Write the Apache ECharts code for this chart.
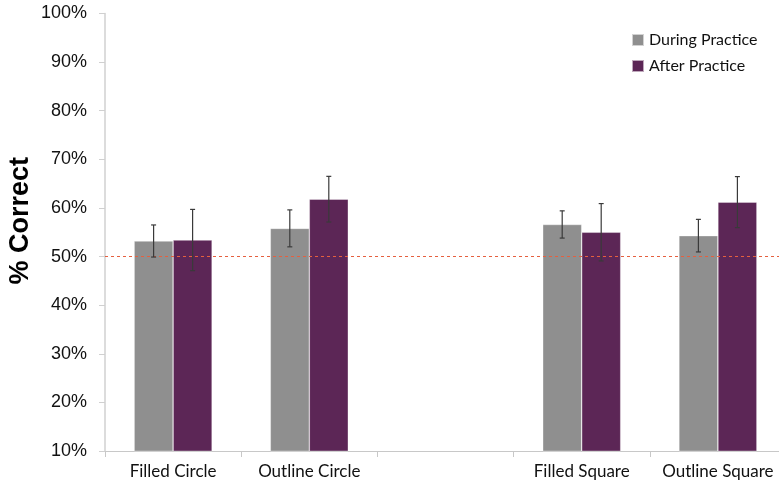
<!DOCTYPE html>
<html>
<head>
<meta charset="utf-8">
<script src="https://cdn.jsdelivr.net/npm/echarts@6/dist/echarts.min.js"></script>
<style>
  html, body { margin: 0; padding: 0; background: #fff; }
  #chart { width: 779px; height: 486px; }
</style>
</head>
<body>
<div id="chart"></div>
<script>
// Stimulus conditions (the empty slot separates circles from squares)
const categories = ['Filled Circle', 'Outline Circle', '', 'Filled Square', 'Outline Square'];
// Mean percent correct
const duringPractice = [53.2, 55.8, null, 56.6, 54.3];
const afterPractice = [53.4, 61.8, null, 55.0, 61.2];
// Standard error (percentage points)
const duringErr = [3.3, 3.8, null, 2.8, 3.35];
const afterErr = [6.3, 4.7, null, 5.9, 5.25];
// Chance level
const chanceLevel = 50;
const yTicks = { min: 10, max: 100, step: 10 };

const chart = echarts.init(document.getElementById('chart'));
const BAR_W = 39;

function errorSeries(name, means, errs, side) {
  return {
    type: 'custom',
    name: name + ' error',
    z: 5,
    silent: true,
    renderItem: function (params, api) {
      const i = api.value(0);
      const lo = api.value(1);
      const hi = api.value(2);
      const cx = api.coord([i, 0])[0] + side * BAR_W / 2;
      const yLo = api.coord([i, lo])[1];
      const yHi = api.coord([i, hi])[1];
      const cap = 2.5;
      const st = { stroke: '#3a3a3a', lineWidth: 1.2 };
      return {
        type: 'group',
        children: [
          { type: 'line', shape: { x1: cx, y1: yLo, x2: cx, y2: yHi }, style: st },
          { type: 'line', shape: { x1: cx - cap, y1: yHi, x2: cx + cap, y2: yHi }, style: st },
          { type: 'line', shape: { x1: cx - cap, y1: yLo, x2: cx + cap, y2: yLo }, style: st }
        ]
      };
    },
    data: means.map((m, i) => m == null ? null : [i, m - errs[i], m + errs[i]]).filter(d => d)
  };
}

chart.setOption({
  animation: false,
  grid: { left: 105, width: 681, top: 13.5, bottom: 35, outerBoundsMode: 'none', containLabel: false },
  legend: {
    orient: 'vertical',
    left: 626,
    top: 27,
    itemWidth: 12,
    itemHeight: 12,
    itemGap: 10,
    icon: 'rect',
    data: ['During Practice', 'After Practice'],
    textStyle: { fontFamily: 'Lato', fontSize: 16, color: '#111' }
  },
  graphic: [{
    type: 'text',
    left: 7,
    top: 157,
    rotation: Math.PI / 2,
    style: {
      text: '% Correct',
      font: 'bold 27px "Liberation Sans", Arial, sans-serif',
      fill: '#000'
    }
  }],
  xAxis: {
    type: 'category',
    data: categories,
    axisLine: { lineStyle: { color: '#c8c8c8', width: 1.2 } },
    axisTick: { show: true, interval: 0, length: 6, lineStyle: { color: '#c8c8c8' } },
    axisLabel: {
      interval: 0,
      margin: 12,
      fontFamily: 'Lato',
      fontSize: 17,
      color: '#111'
    }
  },
  yAxis: {
    type: 'value',
    min: yTicks.min,
    max: yTicks.max,
    interval: yTicks.step,
    axisLine: { show: true, lineStyle: { color: '#d0d0d0', width: 1.5 } },
    axisTick: { show: true, length: 6, lineStyle: { color: '#d0d0d0' } },
    splitLine: { show: false },
    axisLabel: {
      formatter: '{value}%',
      margin: 18,
      fontFamily: '"Liberation Sans", Arial, sans-serif',
      fontSize: 18,
      color: '#111'
    }
  },
  series: [
    {
      name: 'During Practice',
      type: 'bar',
      barWidth: BAR_W,
      barGap: '0%',
      data: duringPractice,
      itemStyle: { color: '#8f8f8f', borderColor: 'rgba(255,255,255,0.6)', borderWidth: 0.6 },
      markLine: {
        silent: true,
        symbol: 'none',
        label: { show: false },
        lineStyle: { color: '#e5603f', type: [3, 3], width: 1 },
        data: [{ yAxis: chanceLevel }]
      }
    },
    {
      name: 'After Practice',
      type: 'bar',
      barWidth: BAR_W,
      data: afterPractice,
      itemStyle: { color: '#5c2656', borderColor: 'rgba(255,255,255,0.6)', borderWidth: 0.6 }
    },
    errorSeries('During Practice', duringPractice, duringErr, -1),
    errorSeries('After Practice', afterPractice, afterErr, 1)
  ]
});
</script>
</body>
</html>
